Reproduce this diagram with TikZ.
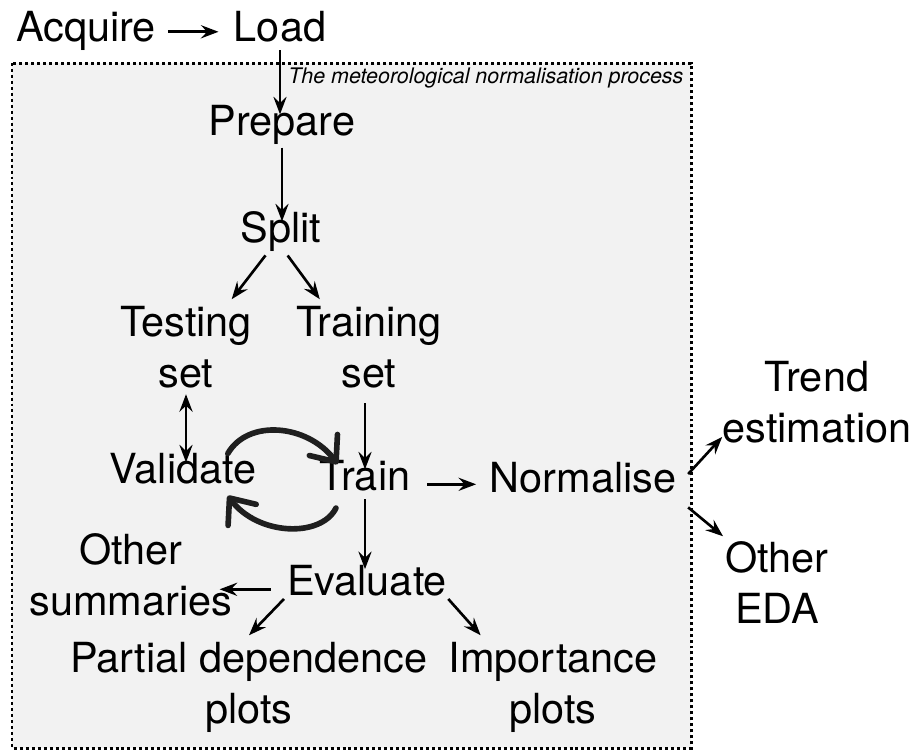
\documentclass[tikz,border=0pt]{standalone}
\usepackage{fontspec}
\setmainfont{TeX Gyre Heros}
\usetikzlibrary{arrows.meta}
\definecolor{boxgray}{RGB}{242,242,242}

\begin{document}
\begin{tikzpicture}[x=0.02cm,y=-0.02cm, line width=1.5pt,
    >={Stealth[length=10pt,width=7.5pt,inset=3.5pt]},
    word/.style={font=\fontsize{23.6}{29}\selectfont, inner sep=3pt,
                 text height=0.8em, text depth=0.15em, anchor=base},
    words/.style={font=\fontsize{23.6}{29}\selectfont, inner sep=3pt,
                  align=center, anchor=base},
    swing/.style={-{Straight Barb[length=12pt,width=20pt,round]}, line width=3.2pt,
                  line cap=round, black!88}]
    \useasboundingbox (0,0) rectangle (912,752);

    % 虚线框
    \draw[line width=1.7pt, dash pattern=on 1.7pt off 1.7pt, fill=boxgray] (12,63) rectangle (691,748);
    \node[anchor=base west, inner sep=0, font=\fontsize{12.2}{14}\selectfont\itshape] (note) at (287,83) {The meteorological normalisation process};

    % 各步骤
    \node[word] (acquire) at (86,41) {Acquire};
    \node[word] (load) at (280,41) {Load};
    \node[word] (prepare) at (282,135) {Prepare};
    \node[word] (split) at (281,242) {Split};
    \node[words] (testing) at (186,387) {Testing\\set};
    \node[words] (training) at (369,387) {Training\\set};
    \node[word] (validate) at (183,483) {Validate};
    \node[word] (train) at (365,490) {Train};
    \node[word] (normalise) at (583,492) {Normalise};
    \node[words] (trend) at (817,442) {Trend\\estimation};
    \node[words] (eda) at (777,623) {Other\\EDA};
    \node[word] (evaluate) at (367,595) {Evaluate};
    \node[words] (summaries) at (131,615) {Other\\summaries};
    \node[words] (partial) at (249,723) {Partial dependence\\plots};
    \node[words] (importance) at (553,723) {Importance\\plots};

    % 箭头
    \draw[->, shorten <=3pt, shorten >=5pt] ([yshift=2pt]acquire.east) -- ([yshift=2pt]load.west);
    \draw[->] (load.south) -- (load.south |- prepare.north);
    \draw[->, shorten <=2pt] (prepare.south) -- (prepare.south |- split.north);
    \draw[->, shorten <=3pt] ([xshift=-7pt]split.south) -- ([xshift=26pt]testing.north);
    \draw[->, shorten <=3pt] ([xshift=2pt]split.south) -- ([xshift=-28pt]training.north);
    \draw[<->] (testing.south) -- (testing.south |- validate.north);
    \draw[->, shorten <=5pt] (train.north |- training.south) -- (train.north);
    \draw[->, shorten >=3pt] (train.south) -- (train.south |- evaluate.north);
    \draw[->, shorten <=6pt, shorten >=4pt] (train.east) -- (train.east -| normalise.west);
    \draw[->] ([xshift=3pt,yshift=7pt]normalise.east) -- ([xshift=3.5pt,yshift=7pt]trend.south west);
    \draw[->] ([xshift=3pt,yshift=-12pt]normalise.east) -- ([xshift=2.5pt,yshift=-1pt]eda.north west);
    \draw[->, shorten <=5.5pt] (evaluate.west) -- ([xshift=-11pt]evaluate.west -| summaries.east);
    \draw[->] ([xshift=2pt,yshift=3pt]evaluate.south west) -- (partial.north);
    \draw[->] ([xshift=-3pt,yshift=3pt]evaluate.south east) -- ([xshift=22pt]importance.north west);

    % 循环
    \draw[swing] ([xshift=-20pt,yshift=5pt]validate.north east) .. controls +(20,-35) and +(-30,-40) .. ([xshift=14pt,yshift=3pt]train.north west);
    \draw[swing] ([xshift=13pt,yshift=-5pt]train.south west) .. controls +(-15,30) and +(30,40) .. ([xshift=-20pt,yshift=-2pt]validate.south east);
\end{tikzpicture}
\end{document}
